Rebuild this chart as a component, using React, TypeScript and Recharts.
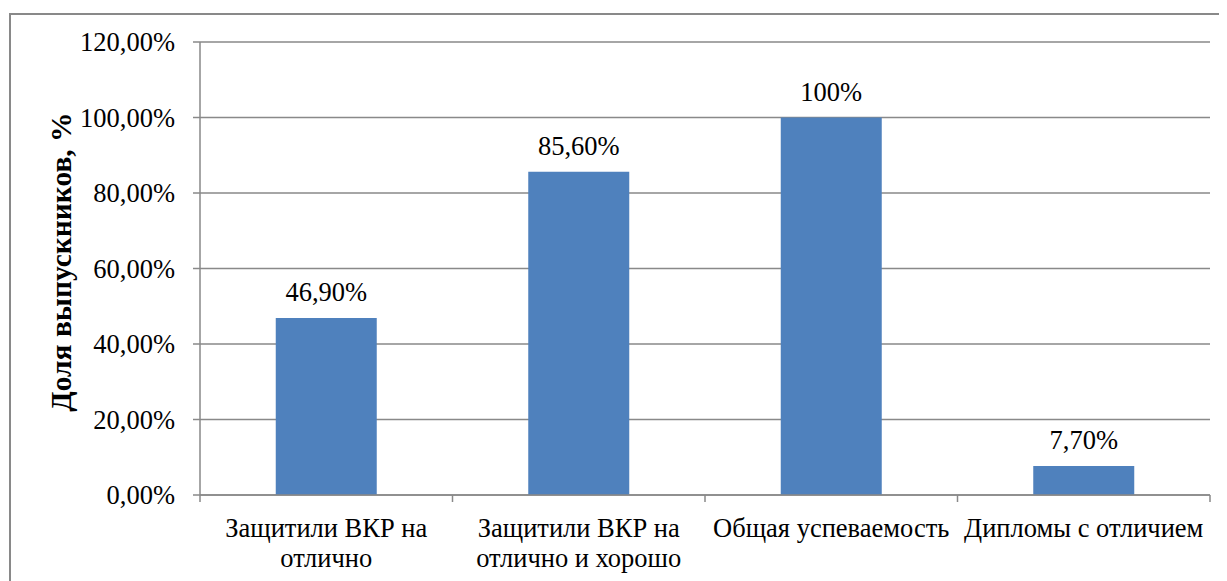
import { Bar, BarChart, CartesianGrid, LabelList, XAxis, YAxis } from "recharts";

const categories = [
  "Защитили ВКР на отлично",
  "Защитили ВКР на отлично и хорошо",
  "Общая успеваемость",
  "Дипломы с отличием",
];
const categoryLines = [
  ["Защитили ВКР на", "отлично"],
  ["Защитили ВКР на", "отлично и хорошо"],
  ["Общая успеваемость"],
  ["Дипломы с отличием"],
];
const shares = [0.469, 0.856, 1.0, 0.077];
const shareLabels = ["46,90%", "85,60%", "100%", "7,70%"];
const yTicks = [0, 0.2, 0.4, 0.6, 0.8, 1.0, 1.2];

const FONT = "'Liberation Serif', 'Times New Roman', serif";
const GRAY = "#898989";
const SIZE = 26.5;

const data = categories.map((name, i) => ({
  name,
  value: shares[i],
  label: shareLabels[i],
}));

function CategoryTick(props: any) {
  const { x, y, payload, index } = props;
  const half = payload?.offset ?? 126;
  const lines = categoryLines[index] ?? [payload.value];
  const last = index === categories.length - 1;
  return (
    <g>
      <line x1={x - half} x2={x - half} y1={y} y2={y + 7} stroke={GRAY} strokeWidth={1.5} />
      {last && (
        <line x1={x + half} x2={x + half} y1={y} y2={y + 7} stroke={GRAY} strokeWidth={1.5} />
      )}
      {lines.map((t: string, i: number) => (
        <text
          key={i}
          x={x}
          y={y + 42 + i * 30}
          textAnchor="middle"
          style={{ fontFamily: FONT }}
          fontSize={SIZE}
          fill="#000"
        >
          {t}
        </text>
      ))}
    </g>
  );
}

export default function App() {
  return (
    <div style={{ position: "relative", width: 1219, height: 573, overflow: "hidden" }}>
      <div
        style={{
          position: "absolute",
          left: 1,
          top: 5,
          width: 1400,
          height: 800,
          border: `2px solid ${GRAY}`,
        }}
      />
      <div style={{ position: "absolute", left: 0, top: 0 }}>
        <BarChart
          width={1219}
          height={573}
          data={data}
          margin={{ top: 34, right: 17, left: 0, bottom: 0 }}
          barCategoryGap="30%"
        >
          <CartesianGrid vertical={false} stroke={GRAY} strokeWidth={1.5} />
          <XAxis
            dataKey="name"
            height={86}
            axisLine={{ stroke: GRAY, strokeWidth: 1.5 }}
            tickLine={false}
            tickSize={0}
            tickMargin={0}
            interval={0}
            tick={<CategoryTick />}
          />
          <YAxis
            width={192}
            domain={[0, 1.2]}
            ticks={yTicks}
            interval={0}
            axisLine={{ stroke: GRAY, strokeWidth: 1.5 }}
            tickLine={{ stroke: GRAY, strokeWidth: 1.5 }}
            tickSize={7}
            tickMargin={18}
            tick={{ fontSize: SIZE, fill: "#000", style: { fontFamily: FONT } }}
            tickFormatter={(v: number) => (v * 100).toFixed(2).replace(".", ",") + "%"}
            label={{
              content: () => (
                <text
                  x={53}
                  y={254}
                  transform="rotate(-90 53 254)"
                  textAnchor="middle"
                  dominantBaseline="central"
                  style={{ fontFamily: FONT }}
                  fontSize={29.5}
                  fontWeight="bold"
                  fill="#000"
                >
                  Доля выпускников, %
                </text>
              ),
            }}
          />
          <Bar dataKey="value" fill="#4F81BD" isAnimationActive={false}>
            <LabelList
              dataKey="label"
              position="top"
              offset={17}
              style={{ fontFamily: FONT }}
              fontSize={SIZE}
              fill="#000"
            />
          </Bar>
        </BarChart>
      </div>
    </div>
  );
}
